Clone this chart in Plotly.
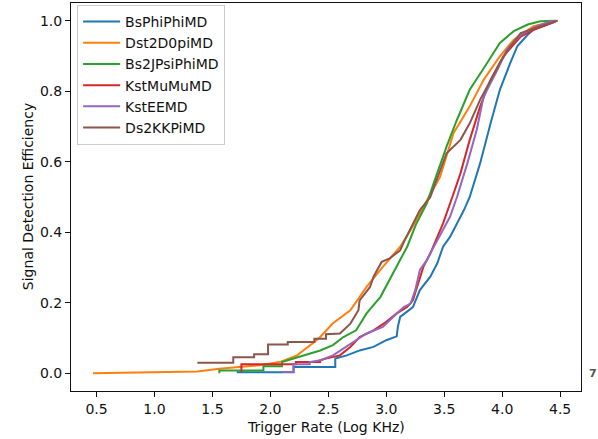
import plotly.graph_objects as go

names = ["BsPhiPhiMD", "Dst2D0piMD", "Bs2JPsiPhiMD", "KstMuMuMD", "KstEEMD", "Ds2KKPiMD"]
colors = ["#1f77b4", "#ff7f0e", "#2ca02c", "#d62728", "#9467bd", "#8c564b"]

bs_phiphi_x = [1.71, 2.20, 2.20, 2.56, 2.56, 2.66, 2.77, 2.89, 3.00, 3.09, 3.10, 3.12, 3.23, 3.29, 3.38, 3.44, 3.49, 3.55, 3.61, 3.67, 3.72, 3.77, 3.81, 3.90, 3.98, 4.07, 4.13, 4.22, 4.27, 4.42, 4.47]
bs_phiphi_y = [0.003, 0.003, 0.018, 0.018, 0.042, 0.051, 0.065, 0.075, 0.094, 0.105, 0.132, 0.160, 0.188, 0.236, 0.274, 0.312, 0.359, 0.387, 0.425, 0.463, 0.500, 0.550, 0.596, 0.709, 0.804, 0.880, 0.927, 0.960, 0.974, 0.993, 1.0]

dst_x = [0.47, 1.37, 1.56, 1.91, 2.08, 2.23, 2.38, 2.43, 2.54, 2.69, 2.83, 2.97, 3.12, 3.21, 3.29, 3.37, 3.465, 3.58, 3.72, 3.84, 3.98, 4.10, 4.27, 4.47]
dst_y = [0.0, 0.005, 0.013, 0.023, 0.032, 0.051, 0.089, 0.103, 0.142, 0.179, 0.245, 0.302, 0.359, 0.406, 0.454, 0.500, 0.558, 0.681, 0.757, 0.832, 0.899, 0.946, 0.984, 1.0]

jpsi_x = [1.56, 1.56, 1.94, 1.94, 2.10, 2.10, 2.20, 2.31, 2.43, 2.54, 2.63, 2.74, 2.83, 2.95, 3.06, 3.18, 3.26, 3.35, 3.41, 3.52, 3.61, 3.72, 3.87, 3.98, 4.10, 4.22, 4.33, 4.45]
jpsi_y = [0.0, 0.008, 0.008, 0.020, 0.020, 0.032, 0.042, 0.054, 0.065, 0.080, 0.103, 0.122, 0.170, 0.217, 0.283, 0.359, 0.425, 0.482, 0.540, 0.643, 0.719, 0.804, 0.880, 0.937, 0.970, 0.989, 0.998, 1.0]

kmumu_x = [1.75, 1.75, 2.22, 2.22, 2.43, 2.43, 2.48, 2.60, 2.69, 2.77, 2.89, 3.00, 3.09, 3.18, 3.23, 3.28, 3.32, 3.38, 3.44, 3.49, 3.57, 3.64, 3.72, 3.81, 3.90, 4.01, 4.16, 4.27, 4.45, 4.47]
kmumu_y = [0.004, 0.026, 0.026, 0.032, 0.032, 0.037, 0.042, 0.051, 0.075, 0.103, 0.122, 0.146, 0.170, 0.188, 0.207, 0.264, 0.302, 0.340, 0.387, 0.425, 0.500, 0.567, 0.662, 0.757, 0.832, 0.899, 0.955, 0.974, 0.996, 1.0]

kee_x = [2.10, 2.20, 2.20, 2.34, 2.34, 2.43, 2.54, 2.69, 2.83, 2.97, 3.06, 3.15, 3.21, 3.25, 3.29, 3.35, 3.41, 3.49, 3.55, 3.61, 3.70, 3.78, 3.84, 3.96, 4.04, 4.16, 4.30, 4.42, 4.46]
kee_y = [0.004, 0.004, 0.026, 0.026, 0.032, 0.037, 0.051, 0.084, 0.113, 0.132, 0.160, 0.188, 0.198, 0.236, 0.293, 0.321, 0.359, 0.406, 0.444, 0.500, 0.596, 0.690, 0.785, 0.861, 0.918, 0.960, 0.984, 0.998, 1.0]

dskkpi_x = [1.37, 1.68, 1.68, 1.86, 1.86, 1.98, 1.98, 2.15, 2.15, 2.38, 2.38, 2.48, 2.48, 2.60, 2.69, 2.76, 2.77, 2.86, 2.89, 2.96, 3.03, 3.12, 3.16, 3.21, 3.29, 3.38, 3.52, 3.64, 3.72, 3.81, 3.90, 3.98, 4.07, 4.16, 4.33, 4.48]
dskkpi_y = [0.030, 0.030, 0.046, 0.046, 0.054, 0.054, 0.082, 0.082, 0.089, 0.089, 0.098, 0.098, 0.111, 0.113, 0.141, 0.179, 0.207, 0.245, 0.274, 0.316, 0.326, 0.349, 0.378, 0.410, 0.463, 0.500, 0.624, 0.662, 0.709, 0.776, 0.832, 0.880, 0.927, 0.965, 0.984, 1.0]

series_x = [bs_phiphi_x, dst_x, jpsi_x, kmumu_x, kee_x, dskkpi_x]
series_y = [bs_phiphi_y, dst_y, jpsi_y, kmumu_y, kee_y, dskkpi_y]

x_ticks = [0.5, 1.0, 1.5, 2.0, 2.5, 3.0, 3.5, 4.0, 4.5]
y_ticks = [0.0, 0.2, 0.4, 0.6, 0.8, 1.0]

fig = go.Figure()
for n, c, xs, ys in zip(names, colors, series_x, series_y):
    fig.add_trace(go.Scatter(x=xs, y=ys, mode="lines", name=n,
                             line=dict(color=c, width=2)))

font = dict(family="DejaVu Sans", size=14, color="#111")
axis_common = dict(showgrid=False, zeroline=False, showline=True, mirror=True,
                   linecolor="#111", linewidth=1, ticks="outside", ticklen=5,
                   tickwidth=1, tickcolor="#111", tickfont=font, automargin=False)

fig.update_layout(
    width=598, height=439,
    margin=dict(l=71, r=17, t=3, b=48, pad=0),
    paper_bgcolor="white", plot_bgcolor="white",
    font=font,
    showlegend=True,
    legend=dict(x=0.012, y=0.995, xanchor="left", yanchor="top",
                bgcolor="rgba(255,255,255,0.8)", bordercolor="#cccccc",
                borderwidth=1, font=font, itemwidth=37),
    xaxis=dict(range=[0.28, 4.68], tickvals=x_ticks,
               ticktext=[f"{v:.1f}" for v in x_ticks], **axis_common),
    yaxis=dict(range=[-0.05, 1.05], tickvals=y_ticks,
               ticktext=[f"{v:.1f}" for v in y_ticks], **axis_common),
)
fig.add_annotation(text="Trigger Rate (Log KHz)", xref="paper", yref="paper",
                   x=0.5, y=-0.092, xanchor="center", yanchor="middle",
                   showarrow=False, font=font)
fig.add_annotation(text="Signal Detection Efficiency", xref="paper", yref="paper",
                   x=-0.084, y=0.5, xanchor="center", yanchor="middle", textangle=-90,
                   showarrow=False, font=font)
fig.add_annotation(text="<b>7</b>", xref="paper", yref="paper", x=1.0235, y=0.045,
                   xanchor="center", yanchor="middle",
                   showarrow=False, font=dict(family="DejaVu Sans", size=11, color="#555"))

fig.write_html("out.html", config={"displayModeBar": False},
               post_script="document.body.style.margin='0px';document.body.style.overflow='hidden';")
